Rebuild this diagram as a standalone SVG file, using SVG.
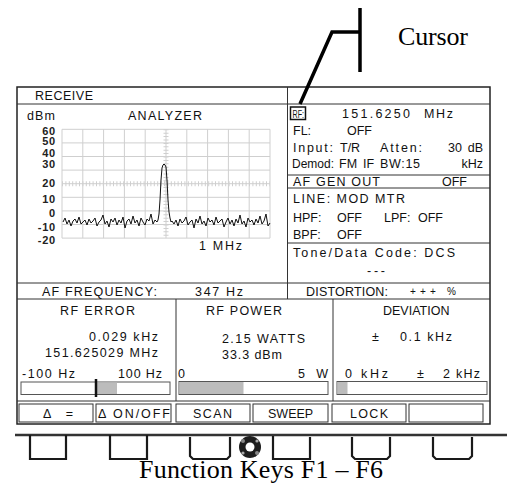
<svg xmlns="http://www.w3.org/2000/svg" width="512" height="483" viewBox="0 0 512 483">
<style>
.d{font-family:"Liberation Sans",Arial,sans-serif;font-size:12.5px;fill:#111}
.y{font-family:"Liberation Sans",Arial,sans-serif;font-size:11px;font-weight:bold;fill:#222;text-anchor:end;letter-spacing:0.8px}
.s{font-family:"Liberation Serif","Times New Roman",serif;font-size:26px;fill:#000}
.ln{stroke:#333;stroke-width:1;fill:none}
.gr{stroke:#cfcfcf;stroke-width:1;fill:none}
.bar{fill:#fff;stroke:#555;stroke-width:1}
.fill{fill:#bcbcbc}
.fk{fill:#fff;stroke:#333;stroke-width:1}
.key{fill:none;stroke:#1a1a1a;stroke-width:2.2}
</style>
<rect width="512" height="483" fill="#fff"/>

<g id="cursor-label">
<text class="s" x="398" y="45" textLength="70">Cursor</text>
</g>

<g id="screen">
<rect x="17" y="87" width="473" height="337" fill="#fff" stroke="#222" stroke-width="1.5"/>
<line class="ln" x1="17" y1="104" x2="490" y2="104"/>
<line class="ln" x1="287.5" y1="87" x2="287.5" y2="299"/>
<line class="ln" x1="287.5" y1="175" x2="490" y2="175"/>
<line class="ln" x1="287.5" y1="188" x2="490" y2="188"/>
<line class="ln" x1="287.5" y1="243" x2="490" y2="243"/>
<line class="ln" x1="17" y1="283" x2="490" y2="283"/>
<line class="ln" x1="17" y1="299" x2="490" y2="299"/>
<line class="ln" x1="176" y1="299" x2="176" y2="401"/>
<line class="ln" x1="333" y1="299" x2="333" y2="401"/>
<line class="ln" x1="17" y1="401" x2="490" y2="401"/>
</g>

<g id="analyzer">
<text class="d" x="35" y="100" textLength="58">RECEIVE</text>
<text class="d" x="27" y="120" textLength="28">dBm</text>
<text class="d" x="128" y="120" textLength="74">ANALYZER</text>
<g class="gr">
<path d="M62,129.3V238.1M82.8,129.3V238.1M103.6,129.3V238.1M124.4,129.3V238.1M145.2,129.3V238.1M166,129.3V238.1M186.8,129.3V238.1M207.6,129.3V238.1M228.4,129.3V238.1M249.2,129.3V238.1M270,129.3V238.1"/>
<path d="M62,129.3H270M62,142.9H270M62,156.5H270M62,170.1H270M62,183.7H270M62,197.3H270M62,210.9H270M62,224.5H270M62,238.1H270"/>
<line x1="166" y1="129.3" x2="166" y2="238.1" stroke-width="5" stroke-dasharray="1 2.4"/>
<line x1="62" y1="183.7" x2="270" y2="183.7" stroke-width="5" stroke-dasharray="1 2.4"/>
</g>
<text class="y" x="56" y="134.5">60</text>
<text class="y" x="56" y="145">50</text>
<text class="y" x="56" y="156.5">40</text>
<text class="y" x="56" y="167.5">30</text>
<text class="y" x="56" y="187">20</text>
<text class="y" x="56" y="203">10</text>
<text class="y" x="56" y="217">0</text>
<text class="y" x="56" y="230.5">-10</text>
<text class="y" x="56" y="244">-20</text>
<polyline fill="none" stroke="#111" stroke-width="1" stroke-linejoin="round" points="63,222 65,218 67,224 69,220 71,226 73,221 75,219 77,223 79,217 81,224 83,222 85,220 87,225 89,219 91,223 93,221 95,218 97,226 99,222 101,220 103,215 105,224 107,221 109,227 111,219 113,222 115,218 117,225 119,220 121,223 123,217 125,228 127,221 129,219 131,224 133,216 135,223 137,220 139,226 141,218 143,222 145,225 147,219 149,221 151,214 153,224 155,220 157,222 158,220 159,214 160,200 161,180 162,168 163,165 164,164 165,165 166,167 167,180 168,200 169,212 170,218 171,222 172,221 174,224 176,220 178,226 180,219 182,223 184,221 186,217 188,225 190,222 192,220 194,228 196,219 198,223 200,216 202,224 204,221 206,226 208,218 210,222 212,220 214,225 216,217 218,223 220,221 222,219 224,227 226,222 228,218 230,224 232,220 234,226 236,219 238,223 240,215 242,224 244,221 246,227 248,218 250,222 252,220 254,225 256,219 258,223 260,216 262,224 264,221 266,214 268,226 270,223"/>
<text class="d" x="199" y="250" textLength="43">1 MHz</text>
</g>

<g id="rf-settings">
<rect x="290.5" y="107" width="15" height="12.5" fill="none" stroke="#111" stroke-width="1.5"/>
<text class="d" x="292.5" y="117.5" textLength="11.5" lengthAdjust="spacingAndGlyphs" style="font-size:11.5px">RF:</text>
<text class="d" x="342" y="117.5" textLength="68">151.6250</text>
<text class="d" x="424" y="117.5" textLength="29">MHz</text>
<text class="d" x="293" y="135">FL:</text>
<text class="d" x="347" y="135">OFF</text>
<text class="d" x="293" y="152" textLength="40">Input:</text>
<text class="d" x="340" y="152">T/R</text>
<text class="d" x="380" y="152" textLength="42">Atten:</text>
<text class="d" x="448" y="152">30</text>
<text class="d" x="483" y="152" text-anchor="end">dB</text>
<text class="d" x="292" y="168" style="font-size:12px">Demod:</text>
<text class="d" x="339" y="168">FM</text>
<text class="d" x="363" y="168">IF</text>
<text class="d" x="380" y="168" textLength="40">BW:15</text>
<text class="d" x="483" y="168" text-anchor="end">kHz</text>
</g>

<g id="af-gen">
<text class="d" x="293" y="186" textLength="87">AF GEN OUT</text>
<text class="d" x="442" y="186">OFF</text>
</g>

<g id="line-filters">
<text class="d" x="293" y="203" textLength="112">LINE: MOD MTR</text>
<text class="d" x="293" y="222">HPF:</text>
<text class="d" x="337" y="222">OFF</text>
<text class="d" x="384" y="222">LPF:</text>
<text class="d" x="418" y="222">OFF</text>
<text class="d" x="293" y="239">BPF:</text>
<text class="d" x="337" y="239">OFF</text>
</g>

<g id="tone-code">
<text class="d" x="293" y="257" textLength="162">Tone/Data Code: DCS</text>
<text class="d" x="367" y="275" textLength="18">---</text>
</g>

<g id="af-frequency">
<text class="d" x="42" y="296" textLength="115">AF FREQUENCY:</text>
<text class="d" x="195" y="296" textLength="48">347 Hz</text>
</g>

<g id="distortion">
<text class="d" x="306" y="296" textLength="82">DISTORTION:</text>
<text class="d" x="410" y="295" style="font-size:10px" textLength="46">+++ %</text>
</g>

<g id="rf-error">
<text class="d" x="60" y="315" textLength="75">RF ERROR</text>
<text class="d" x="89" y="341" textLength="69">0.029 kHz</text>
<text class="d" x="45" y="357" textLength="113">151.625029 MHz</text>
<text class="d" x="22" y="378" textLength="53">-100 Hz</text>
<text class="d" x="118" y="378" textLength="44">100 Hz</text>
<rect class="bar" x="21" y="382" width="149" height="12.5"/>
<rect class="fill" x="97" y="382.5" width="20" height="11.5"/>
<line x1="96" y1="379" x2="96" y2="397" stroke="#111" stroke-width="2.5"/>
</g>

<g id="rf-power">
<text class="d" x="206" y="315" textLength="76">RF POWER</text>
<text class="d" x="222" y="343" textLength="83">2.15 WATTS</text>
<text class="d" x="222" y="359" textLength="60">33.3 dBm</text>
<text class="d" x="178" y="378">0</text>
<text class="d" x="298" y="378" textLength="30">5 W</text>
<rect class="bar" x="179" y="381.5" width="149" height="13"/>
<rect class="fill" x="179.5" y="382" width="64" height="12"/>
</g>

<g id="deviation">
<text class="d" x="383" y="315">DEVIATION</text>
<text class="d" x="372" y="341">±</text>
<text class="d" x="400" y="341" textLength="52">0.1 kHz</text>
<text class="d" x="345" y="378" textLength="43">0 kHz</text>
<text class="d" x="417" y="378">±</text>
<text class="d" x="443" y="378" textLength="37">2 kHz</text>
<rect class="bar" x="337" y="381.5" width="150" height="13"/>
<rect class="fill" x="337.5" y="382" width="10" height="12"/>
</g>

<g id="softkeys">
<rect class="fk" x="19" y="404" width="74" height="18"/>
<rect class="fk" x="96" y="404" width="75" height="18"/>
<rect class="fk" x="176" y="404" width="74" height="18"/>
<rect class="fk" x="253" y="404" width="75" height="18"/>
<rect class="fk" x="332" y="404" width="74" height="18"/>
<rect class="fk" x="409" y="404" width="74" height="18"/>
<text class="d" x="43" y="418" textLength="30">Δ =</text>
<text class="d" x="98" y="418" textLength="72">Δ ON/OFF</text>
<text class="d" x="193" y="418" textLength="39">SCAN</text>
<text class="d" x="268" y="418">SWEEP</text>
<text class="d" x="350" y="418" textLength="38">LOCK</text>
</g>

<g id="function-keys">
<line x1="15" y1="435" x2="507" y2="435" stroke="#333" stroke-width="2.5"/>
<path class="key" d="M30,435V459H66V435"/>
<path class="key" d="M110,435V459H147V435"/>
<path class="key" d="M190,437V456L193,459H227L230,456V437"/>
<path class="key" d="M273,436V459H310V437"/>
<path class="key" d="M352,437V456L355,459H387L390,456V437"/>
<path class="key" d="M433,437V456L436,459H469L472,456V437"/>
<circle cx="250" cy="447" r="11" fill="#1e1e1e"/>
<circle cx="250" cy="447" r="4.5" fill="#fff"/>
<circle cx="243" cy="441" r="2" fill="#888"/>
<circle cx="257" cy="453" r="2" fill="#888"/>
<circle cx="257" cy="441" r="1.6" fill="#aaa"/>
<circle cx="243" cy="453" r="1.6" fill="#aaa"/>
<text class="s" x="139" y="478" textLength="244">Function Keys F1 – F6</text>
</g>

<g id="connectors">
<line x1="360" y1="8" x2="360" y2="72" stroke="#000" stroke-width="3.5"/>
<polyline points="360,32 332,32 300,104" fill="none" stroke="#000" stroke-width="3.5" stroke-linejoin="miter"/>
</g>
</svg>
